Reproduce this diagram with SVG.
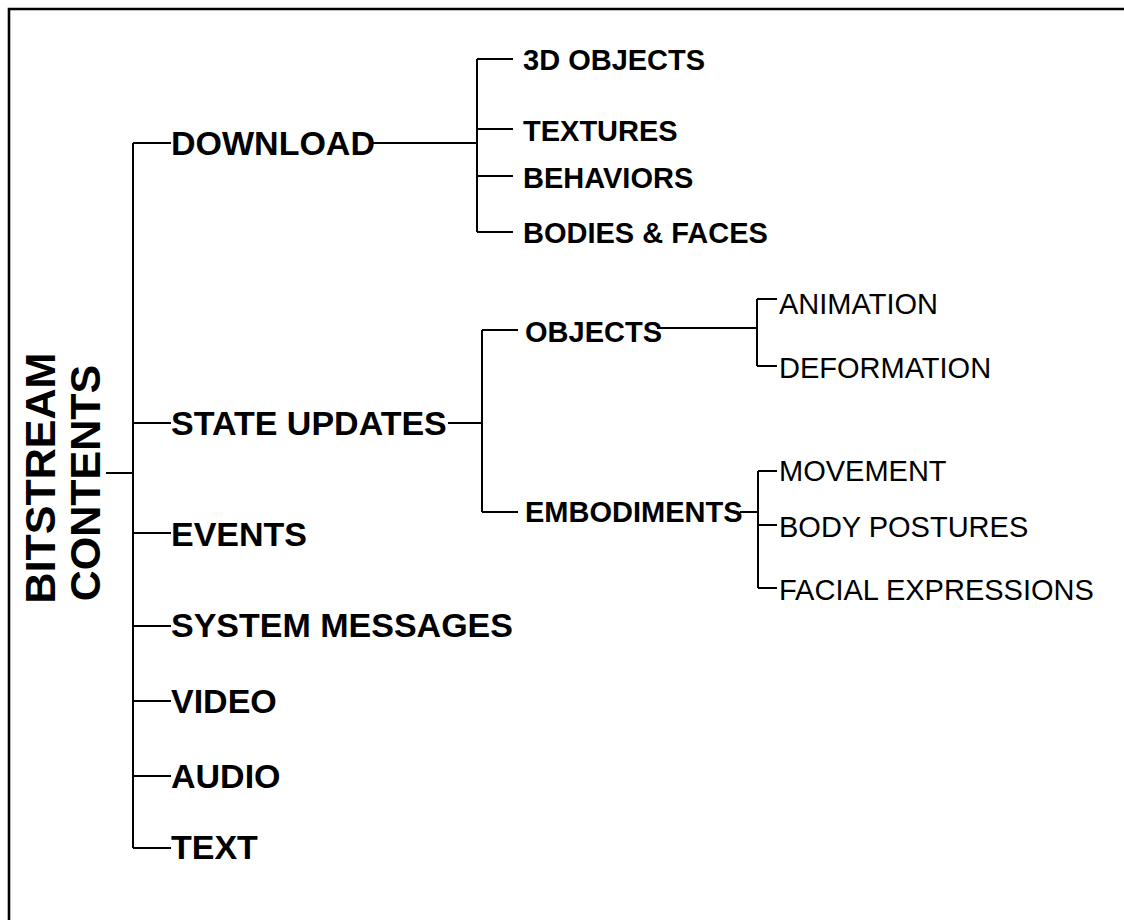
<svg xmlns="http://www.w3.org/2000/svg" width="1124" height="920" viewBox="0 0 1124 920">
<style>
.c{fill:none;stroke:#000;stroke-width:2;stroke-linecap:butt}
.f{fill:none;stroke:#000;stroke-width:2.6}
.l1{font-family:"Liberation Sans",Arial,sans-serif;font-weight:bold;font-size:34px;fill:#000}
.l2{font-family:"Liberation Sans",Arial,sans-serif;font-weight:bold;font-size:29px;fill:#000}
.l3{font-family:"Liberation Sans",Arial,sans-serif;font-weight:normal;font-size:29px;fill:#000}
.r{font-family:"Liberation Sans",Arial,sans-serif;font-weight:bold;font-size:43px;fill:#000;text-anchor:middle}
</style>
<rect width="1124" height="920" fill="#fff"/>
<path class="f" d="M9,920 V9 H1124"/>
<g id="connectors">
<path class="c" d="M106,473 H133 M133,143 V848"/>
<path class="c" d="M133,143 H171 M133,423 H171 M133,533 H171 M133,626 H171 M133,701 H171 M133,776 H171 M133,848 H171"/>
<path class="c" d="M373,143 H477 M477,59 V232 M477,59 H513 M477,129 H513 M477,176 H513 M477,232 H513"/>
<path class="c" d="M448,423 H482 M482,330 V512 M482,330 H518 M482,512 H518"/>
<path class="c" d="M657,328 H757 M757,299 V366 M757,299 H777 M757,366 H777"/>
<path class="c" d="M740,512 H758 M758,471 V588 M758,471 H777 M758,525 H777 M758,588 H777"/>
</g>
<g id="root"><text class="r" transform="translate(55,478) rotate(-90)">BITSTREAM</text><text class="r" transform="translate(100,483) rotate(-90)">CONTENTS</text></g>
<g id="download"><text class="l1" x="171" y="155">DOWNLOAD</text></g>
<g id="objects3d"><text class="l2" x="523" y="70">3D OBJECTS</text></g>
<g id="textures"><text class="l2" x="523" y="141">TEXTURES</text></g>
<g id="behaviors"><text class="l2" x="523" y="188">BEHAVIORS</text></g>
<g id="bodies"><text class="l2" x="523" y="243">BODIES &amp; FACES</text></g>
<g id="state"><text class="l1" x="171" y="435">STATE UPDATES</text></g>
<g id="objects"><text class="l2" x="525" y="342">OBJECTS</text></g>
<g id="animation"><text class="l3" x="779" y="314">ANIMATION</text></g>
<g id="deformation"><text class="l3" x="779" y="378">DEFORMATION</text></g>
<g id="embodiments"><text class="l2" x="525" y="522">EMBODIMENTS</text></g>
<g id="movement"><text class="l3" x="779" y="481">MOVEMENT</text></g>
<g id="postures"><text class="l3" x="779" y="537">BODY POSTURES</text></g>
<g id="facial"><text class="l3" x="779" y="600">FACIAL EXPRESSIONS</text></g>
<g id="events"><text class="l1" x="171" y="546">EVENTS</text></g>
<g id="system"><text class="l1" x="171" y="637">SYSTEM MESSAGES</text></g>
<g id="video"><text class="l1" x="171" y="713">VIDEO</text></g>
<g id="audio"><text class="l1" x="171" y="788">AUDIO</text></g>
<g id="text"><text class="l1" x="171" y="859">TEXT</text></g>
</svg>
